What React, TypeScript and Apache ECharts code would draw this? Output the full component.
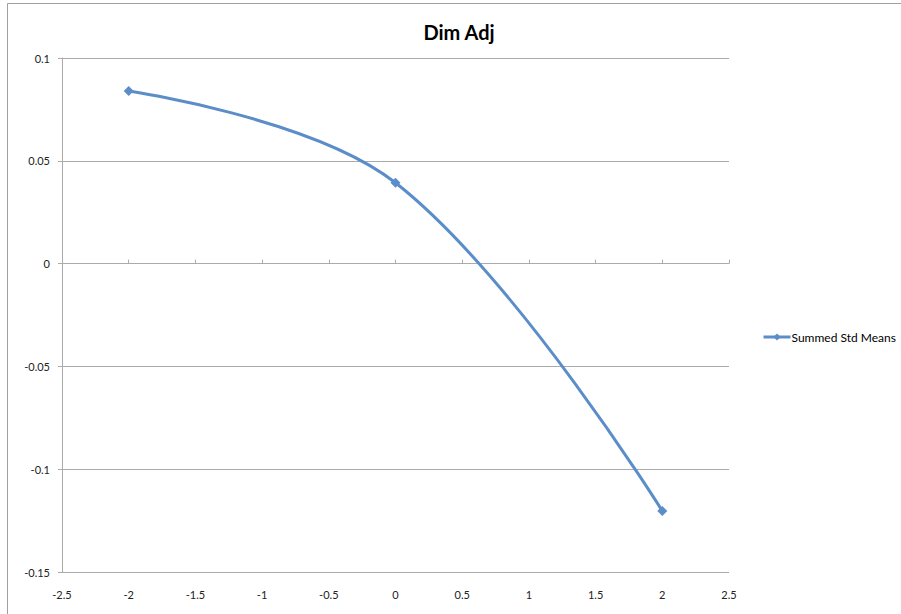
import React, { useEffect, useRef } from "react";
import * as echarts from "echarts";

const titleText = "Dim Adj";
const seriesName = "Summed Std Means";
const xValues = [-2, 0, 2];
const yValues = [0.084, 0.0393, -0.1203];

export default function App() {
  const ref = useRef<HTMLDivElement>(null);
  useEffect(() => {
    if (!ref.current) return;
    const chart = echarts.init(ref.current, undefined, { renderer: "svg" });
    const font = "Lato, 'Open Sans', sans-serif";
    const gridColor = "#ababab";
    const lineColor = "#5B8DC9";
    chart.setOption({
      animation: false,
      backgroundColor: "#ffffff",
      title: {
        text: titleText,
        left: 454,
        textAlign: "center",
        top: 17,
        textStyle: { fontFamily: font, fontWeight: "bold", fontSize: 20, color: "#000" },
      },
      legend: {
        data: [seriesName],
        left: 757,
        top: 326,
        itemWidth: 27,
        itemHeight: 9,
        itemGap: 4,
        lineStyle: { width: 3 },
        textStyle: { fontFamily: font, fontSize: 12, color: "#000", padding: [0, 0, 0, -4] },
      },
      grid: { left: 62, right: 172, top: 58, bottom: 42 },
      xAxis: [
        {
          type: "value",
          min: -2.5,
          max: 2.5,
          interval: 0.5,
          axisLine: { show: false, onZero: false },
          axisTick: { show: false },
          splitLine: { show: false },
          axisLabel: {
            margin: 17,
            fontFamily: font,
            fontSize: 11,
            color: "#222",
            formatter: (v: number) => String(+v.toFixed(2)),
          },
        },
        {
          type: "value",
          min: -2.5,
          max: 2.5,
          interval: 0.5,
          position: "bottom",
          axisLine: { show: true, onZero: true, lineStyle: { color: gridColor } },
          axisTick: { show: true, inside: true, length: 4, lineStyle: { color: gridColor } },
          axisLabel: { show: false },
          splitLine: { show: false },
        },
      ],
      yAxis: {
        type: "value",
        min: -0.15,
        max: 0.1,
        interval: 0.05,
        axisLine: { show: true, onZero: false, lineStyle: { color: gridColor } },
        axisTick: { show: true, length: 4, lineStyle: { color: gridColor } },
        splitLine: { show: true, lineStyle: { color: gridColor, width: 1 } },
        axisLabel: {
          margin: 12,
          fontFamily: font,
          fontSize: 11,
          color: "#222",
          formatter: (v: number) => String(+v.toFixed(2)),
        },
      },
      graphic: [
        {
          type: "rect",
          shape: { x: 7.5, y: 3.5, width: 1000, height: 1000 },
          style: { fill: "none", stroke: "#a0a0a0", lineWidth: 1 },
          silent: true,
        },
      ],
      series: [
        {
          name: seriesName,
          type: "line",
          xAxisIndex: 0,
          data: xValues.map((x, i) => [x, yValues[i]]),
          smooth: 0.38,
          symbol: "diamond",
          symbolSize: 10,
          lineStyle: { color: lineColor, width: 3 },
          itemStyle: { color: lineColor },
        },
      ],
    });
    return () => chart.dispose();
  }, []);
  return (
    <div
      ref={ref}
      style={{ position: "fixed", left: 0, top: 0, width: 901, height: 614 }}
    />
  );
}
